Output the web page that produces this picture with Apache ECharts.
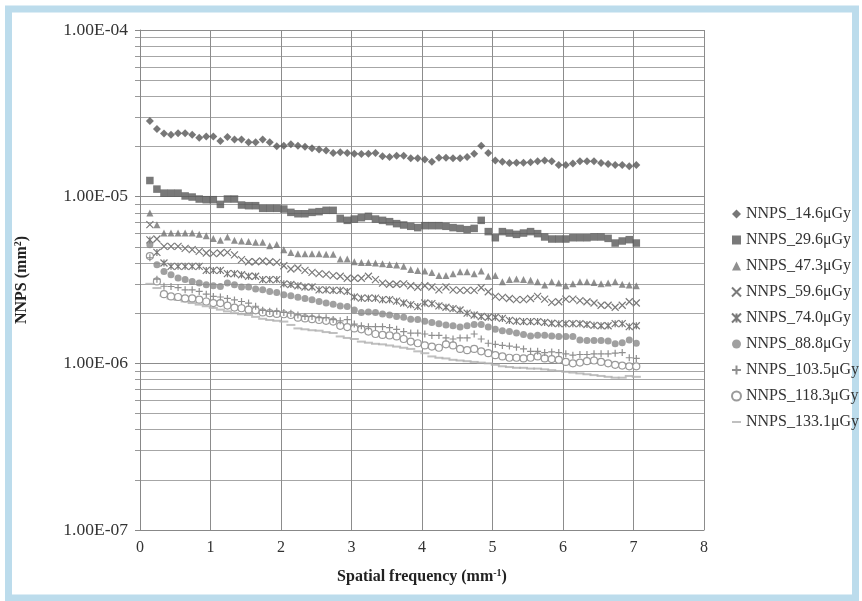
<!DOCTYPE html>
<html>
<head>
<meta charset="utf-8">
<script src="https://cdn.jsdelivr.net/npm/echarts@6/dist/echarts.min.js"></script>
<style>
html,body{margin:0;padding:0;background:#fff;}
#chart{width:862px;height:601px;}
</style>
</head>
<body>
<div id="chart"></div>
<script>
// Spatial frequency (mm^-1)
const freq = [0.14,0.24,0.34,0.44,0.54,0.64,0.74,0.84,0.94,1.04,1.14,1.24,1.34,1.44,1.54,1.64,1.74,1.84,1.94,2.04,2.14,2.24,2.34,2.44,2.54,2.64,2.74,2.84,2.94,3.04,3.14,3.24,3.34,3.44,3.54,3.64,3.74,3.84,3.94,4.04,4.14,4.24,4.34,4.44,4.54,4.64,4.74,4.84,4.94,5.04,5.14,5.24,5.34,5.44,5.54,5.64,5.74,5.84,5.94,6.04,6.14,6.24,6.34,6.44,6.54,6.64,6.74,6.84,6.94,7.04];
// NNPS values in units of 1e-6 mm^2
const UNIT = 1e-6;
const nnps_14_6 = [28.4,25.5,23.9,23.5,24.0,24.0,23.5,22.6,23.0,23.0,21.6,22.8,22.0,22.0,21.2,21.2,22.0,21.2,20.1,20.2,20.6,20.2,19.9,19.5,19.2,18.9,18.3,18.5,18.3,18.1,18.0,18.1,18.3,17.5,17.3,17.6,17.6,17.0,17.0,16.7,16.2,17.1,17.1,17.0,17.0,17.3,18.1,20.2,18.3,16.5,16.2,15.9,16.0,16.0,16.1,16.3,16.5,16.3,15.5,15.5,15.8,16.3,16.3,16.3,15.9,15.7,15.5,15.5,15.2,15.5];
const nnps_29_6 = [12.5,11.1,10.5,10.5,10.5,10.1,9.95,9.68,9.59,9.59,8.99,9.68,9.68,8.91,8.83,8.83,8.51,8.51,8.51,8.43,8.05,7.90,7.90,8.05,8.13,8.28,8.28,7.41,7.21,7.34,7.48,7.62,7.34,7.21,7.08,6.89,6.76,6.64,6.52,6.70,6.70,6.70,6.64,6.52,6.45,6.34,6.45,7.21,6.17,5.67,6.17,6.05,5.94,6.05,6.17,6.00,5.73,5.57,5.57,5.57,5.67,5.67,5.67,5.73,5.73,5.62,5.27,5.42,5.52,5.27];
const nnps_47_3 = [7.98,6.79,6.05,6.05,6.05,6.05,6.05,5.94,5.83,5.62,5.47,5.73,5.47,5.42,5.39,5.32,5.32,5.08,5.17,4.81,4.63,4.55,4.55,4.55,4.55,4.51,4.51,4.23,4.23,4.07,4.03,4.03,4.00,3.96,3.92,3.89,3.82,3.65,3.61,3.58,3.51,3.36,3.36,3.45,3.55,3.55,3.45,3.58,3.33,3.36,3.09,3.18,3.21,3.18,3.15,3.09,2.95,3.09,3.03,2.92,3.00,3.09,3.09,3.06,3.00,3.03,3.09,2.98,2.95,2.92];
const nnps_59_6 = [6.79,5.57,5.03,5.03,5.03,4.90,4.81,4.70,4.59,4.55,4.59,4.63,4.47,4.19,4.07,4.07,4.11,4.07,4.03,3.85,3.68,3.73,3.61,3.51,3.45,3.42,3.36,3.33,3.24,3.24,3.24,3.33,3.18,3.03,2.98,2.98,3.00,2.92,2.86,2.92,2.87,2.76,2.87,2.76,2.74,2.74,2.74,2.84,2.69,2.52,2.49,2.45,2.41,2.41,2.45,2.52,2.43,2.32,2.34,2.43,2.43,2.38,2.34,2.30,2.23,2.23,2.17,2.23,2.34,2.30];
const nnps_74_0 = [5.50,4.63,4.00,3.82,3.82,3.82,3.82,3.82,3.61,3.61,3.61,3.45,3.45,3.40,3.33,3.33,3.18,3.18,3.18,3.00,2.97,2.92,2.87,2.87,2.76,2.76,2.74,2.74,2.70,2.50,2.46,2.46,2.46,2.41,2.41,2.36,2.30,2.25,2.19,2.30,2.28,2.21,2.17,2.13,2.09,2.00,1.95,1.91,1.89,1.89,1.86,1.81,1.79,1.78,1.78,1.78,1.76,1.74,1.73,1.73,1.73,1.73,1.71,1.69,1.68,1.68,1.73,1.73,1.66,1.68];
const nnps_88_8 = [5.15,3.91,3.56,3.40,3.25,3.18,3.10,3.03,2.96,2.92,2.89,3.03,2.96,2.87,2.87,2.79,2.76,2.70,2.66,2.58,2.54,2.49,2.45,2.41,2.35,2.30,2.26,2.21,2.19,2.09,2.02,2.03,2.02,1.98,1.95,1.91,1.89,1.84,1.83,1.79,1.76,1.73,1.70,1.68,1.65,1.68,1.71,1.71,1.65,1.60,1.57,1.55,1.52,1.49,1.46,1.475,1.475,1.46,1.45,1.45,1.45,1.38,1.37,1.37,1.37,1.36,1.31,1.33,1.38,1.32];
const nnps_103_5 = [4.30,3.20,2.90,2.89,2.85,2.76,2.76,2.70,2.60,2.52,2.50,2.45,2.40,2.35,2.30,2.20,2.08,2.05,2.05,2.02,2.00,1.95,1.91,1.91,1.88,1.88,1.83,1.80,1.83,1.72,1.68,1.66,1.66,1.66,1.64,1.60,1.55,1.52,1.52,1.50,1.47,1.47,1.42,1.40,1.42,1.42,1.50,1.40,1.32,1.30,1.28,1.27,1.25,1.22,1.18,1.18,1.16,1.17,1.16,1.14,1.12,1.13,1.13,1.14,1.14,1.14,1.15,1.16,1.08,1.07];
const nnps_118_3 = [4.40,3.10,2.60,2.52,2.50,2.45,2.45,2.41,2.35,2.30,2.30,2.22,2.16,2.14,2.10,2.08,2.02,2.00,1.98,1.97,1.95,1.88,1.86,1.84,1.82,1.80,1.78,1.68,1.65,1.62,1.60,1.55,1.50,1.48,1.47,1.45,1.40,1.35,1.32,1.28,1.26,1.24,1.30,1.28,1.22,1.20,1.22,1.18,1.15,1.12,1.10,1.08,1.08,1.07,1.08,1.10,1.07,1.06,1.05,1.02,1.00,1.01,1.03,1.04,1.02,1.00,0.98,0.97,0.96,0.96];
const nnps_133_1 = [3.00,2.83,2.55,2.45,2.40,2.35,2.30,2.25,2.20,2.15,2.10,2.05,2.00,1.97,1.95,1.90,1.85,1.82,1.80,1.78,1.70,1.62,1.60,1.58,1.57,1.54,1.52,1.45,1.42,1.40,1.35,1.33,1.31,1.30,1.28,1.26,1.24,1.22,1.18,1.15,1.10,1.08,1.07,1.05,1.04,1.03,1.02,1.01,1.00,0.98,0.96,0.95,0.94,0.94,0.93,0.93,0.92,0.91,0.90,0.89,0.88,0.87,0.86,0.85,0.84,0.83,0.82,0.82,0.84,0.83];

const seriesNames = ['NNPS_14.6μGy','NNPS_29.6μGy','NNPS_47.3μGy','NNPS_59.6μGy','NNPS_74.0μGy','NNPS_88.8μGy','NNPS_103.5μGy','NNPS_118.3μGy','NNPS_133.1μGy'];
const seriesValues = [nnps_14_6,nnps_29_6,nnps_47_3,nnps_59_6,nnps_74_0,nnps_88_8,nnps_103_5,nnps_118_3,nnps_133_1];
const xTicks = [0,1,2,3,4,5,6,7,8];
const yMajorTicks = [1e-7,1e-6,1e-5,1e-4];
const yTickLabels = ['1.00E-07','1.00E-06','1.00E-05','1.00E-04'];
const minorMultipliers = [2,3,4,5,6,7,8,9];
const minorDecades = [-7,-6,-5];

const minorLogs = [];
minorDecades.forEach(d => minorMultipliers.forEach(m => minorLogs.push(d + Math.log10(m))));

const FONT = '"Liberation Serif", "Times New Roman", serif';

const styles = [
  {symbol:'diamond', size:8, color:'#555555', hollow:false},
  {symbol:'rect', size:7.5, color:'#585858', hollow:false},
  {symbol:'triangle', size:7, color:'#737373', hollow:false},
  {symbol:'path://M0,0 L10,10 M10,0 L0,10', size:7, color:'#7a7a7a', hollow:true},
  {symbol:'path://M0,0 L10,10 M10,0 L0,10 M5,0 L5,10', size:7, color:'#7a7a7a', hollow:true},
  {symbol:'circle', size:7, color:'#888888', hollow:false},
  {symbol:'path://M5,0 L5,10 M0,5 L10,5', size:7, color:'#8f8f8f', hollow:true},
  {symbol:'circle', size:7, color:'#9a9a9a', hollow:true, ring:true},
  {symbol:'rect', size:[9,2], color:'#b0b0b0', hollow:false,
   legendIcon:'path://M0,0 M0,5 L10,5 M10,10'}
];

const series = seriesNames.map((name, k) => {
  const st = styles[k];
  const itemStyle = st.hollow
    ? {color: st.ring ? '#ffffff' : 'rgba(0,0,0,0)', borderColor: st.color, borderWidth: 1.2, opacity: 1}
    : {color: st.color, borderWidth: 0};
  return {
    name: name,
    type: 'scatter',
    xAxisIndex: 0,
    yAxisIndex: 0,
    symbol: st.symbol,
    symbolSize: st.size,
    itemStyle: itemStyle,
    emphasis: {disabled: true},
    z: 10 - k,
    data: freq.map((f, i) => [f, seriesValues[k][i] * UNIT])
  };
});

const legendData = seriesNames.map((name, k) => {
  const st = styles[k];
  if (st.legendIcon) {
    return {name: name, icon: st.legendIcon,
      itemStyle: {color: 'rgba(0,0,0,0)', borderColor: st.color, borderWidth: 2}};
  }
  return {name: name};
});

const chart = echarts.init(document.getElementById('chart'), null, {renderer: 'canvas'});
chart.setOption({
  animation: false,
  backgroundColor: '#ffffff',
  graphic: [{
    type: 'rect',
    shape: {x: 8.5, y: 9, width: 847, height: 589},
    style: {fill: 'none', stroke: '#bcdcec', lineWidth: 7},
    silent: true,
    z: -10
  }],
  grid: {left: 140, top: 30, width: 564, height: 500, containLabel: false},
  legend: {
    orient: 'vertical',
    left: 726,
    top: 201,
    itemWidth: 9,
    itemHeight: 9,
    itemGap: 10,
    textStyle: {fontFamily: FONT, fontSize: 16, color: '#333', lineHeight: 16},
    data: legendData
  },
  xAxis: {
    type: 'value',
    min: 0, max: 8, interval: 1,
    name: 'Spatial frequency (mm{sup|-1})',
    nameLocation: 'middle',
    nameGap: 38,
    nameTextStyle: {fontFamily: FONT, fontSize: 16, fontWeight: 'bold', color: '#222',
      rich: {sup: {fontFamily: FONT, fontSize: 10, fontWeight: 'bold', color: '#222', verticalAlign: 'top', padding: [0,0,7,0]}}},
    axisLine: {show: true, lineStyle: {color: '#888', width: 1}},
    axisTick: {show: false},
    axisLabel: {fontFamily: FONT, fontSize: 16, color: '#333', margin: 10,
      formatter: v => xTicks.indexOf(v) >= 0 ? String(v) : ''},
    splitLine: {show: true, lineStyle: {color: '#8c8c8c', width: 1}}
  },
  yAxis: [{
    type: 'log',
    logBase: 10,
    min: yMajorTicks[0], max: yMajorTicks[yMajorTicks.length - 1],
    position: 'left',
    name: 'NNPS (mm{sup|2})',
    nameLocation: 'middle',
    nameRotate: 90,
    nameGap: 110,
    nameTextStyle: {fontFamily: FONT, fontSize: 16, fontWeight: 'bold', color: '#222',
      rich: {sup: {fontFamily: FONT, fontSize: 10, fontWeight: 'bold', color: '#222', verticalAlign: 'top', padding: [0,0,7,0]}}},
    axisLine: {show: true, lineStyle: {color: '#888', width: 1}},
    axisTick: {show: true, inside: false, length: 5, lineStyle: {color: '#888'}},
    axisLabel: {fontFamily: FONT, fontSize: 17.5, color: '#333', margin: 12, padding: [4,0,0,0],
      formatter: v => {
        const idx = yMajorTicks.findIndex(t => Math.abs(Math.log10(t) - Math.log10(v)) < 1e-6);
        return idx >= 0 ? yTickLabels[idx] : '';
      }},
    splitLine: {show: true, lineStyle: {color: '#8c8c8c', width: 1}}
  }, {
    type: 'value',
    min: -7, max: -4,
    position: 'left',
    offset: 0,
    axisLine: {show: false},
    axisLabel: {show: false},
    axisTick: {show: true, inside: false, length: 5, customValues: minorLogs, lineStyle: {color: '#999'}},
    splitLine: {show: true, lineStyle: {color: '#a6a6a6', width: 1}}
  }],
  series: series
});
</script>
</body>
</html>
